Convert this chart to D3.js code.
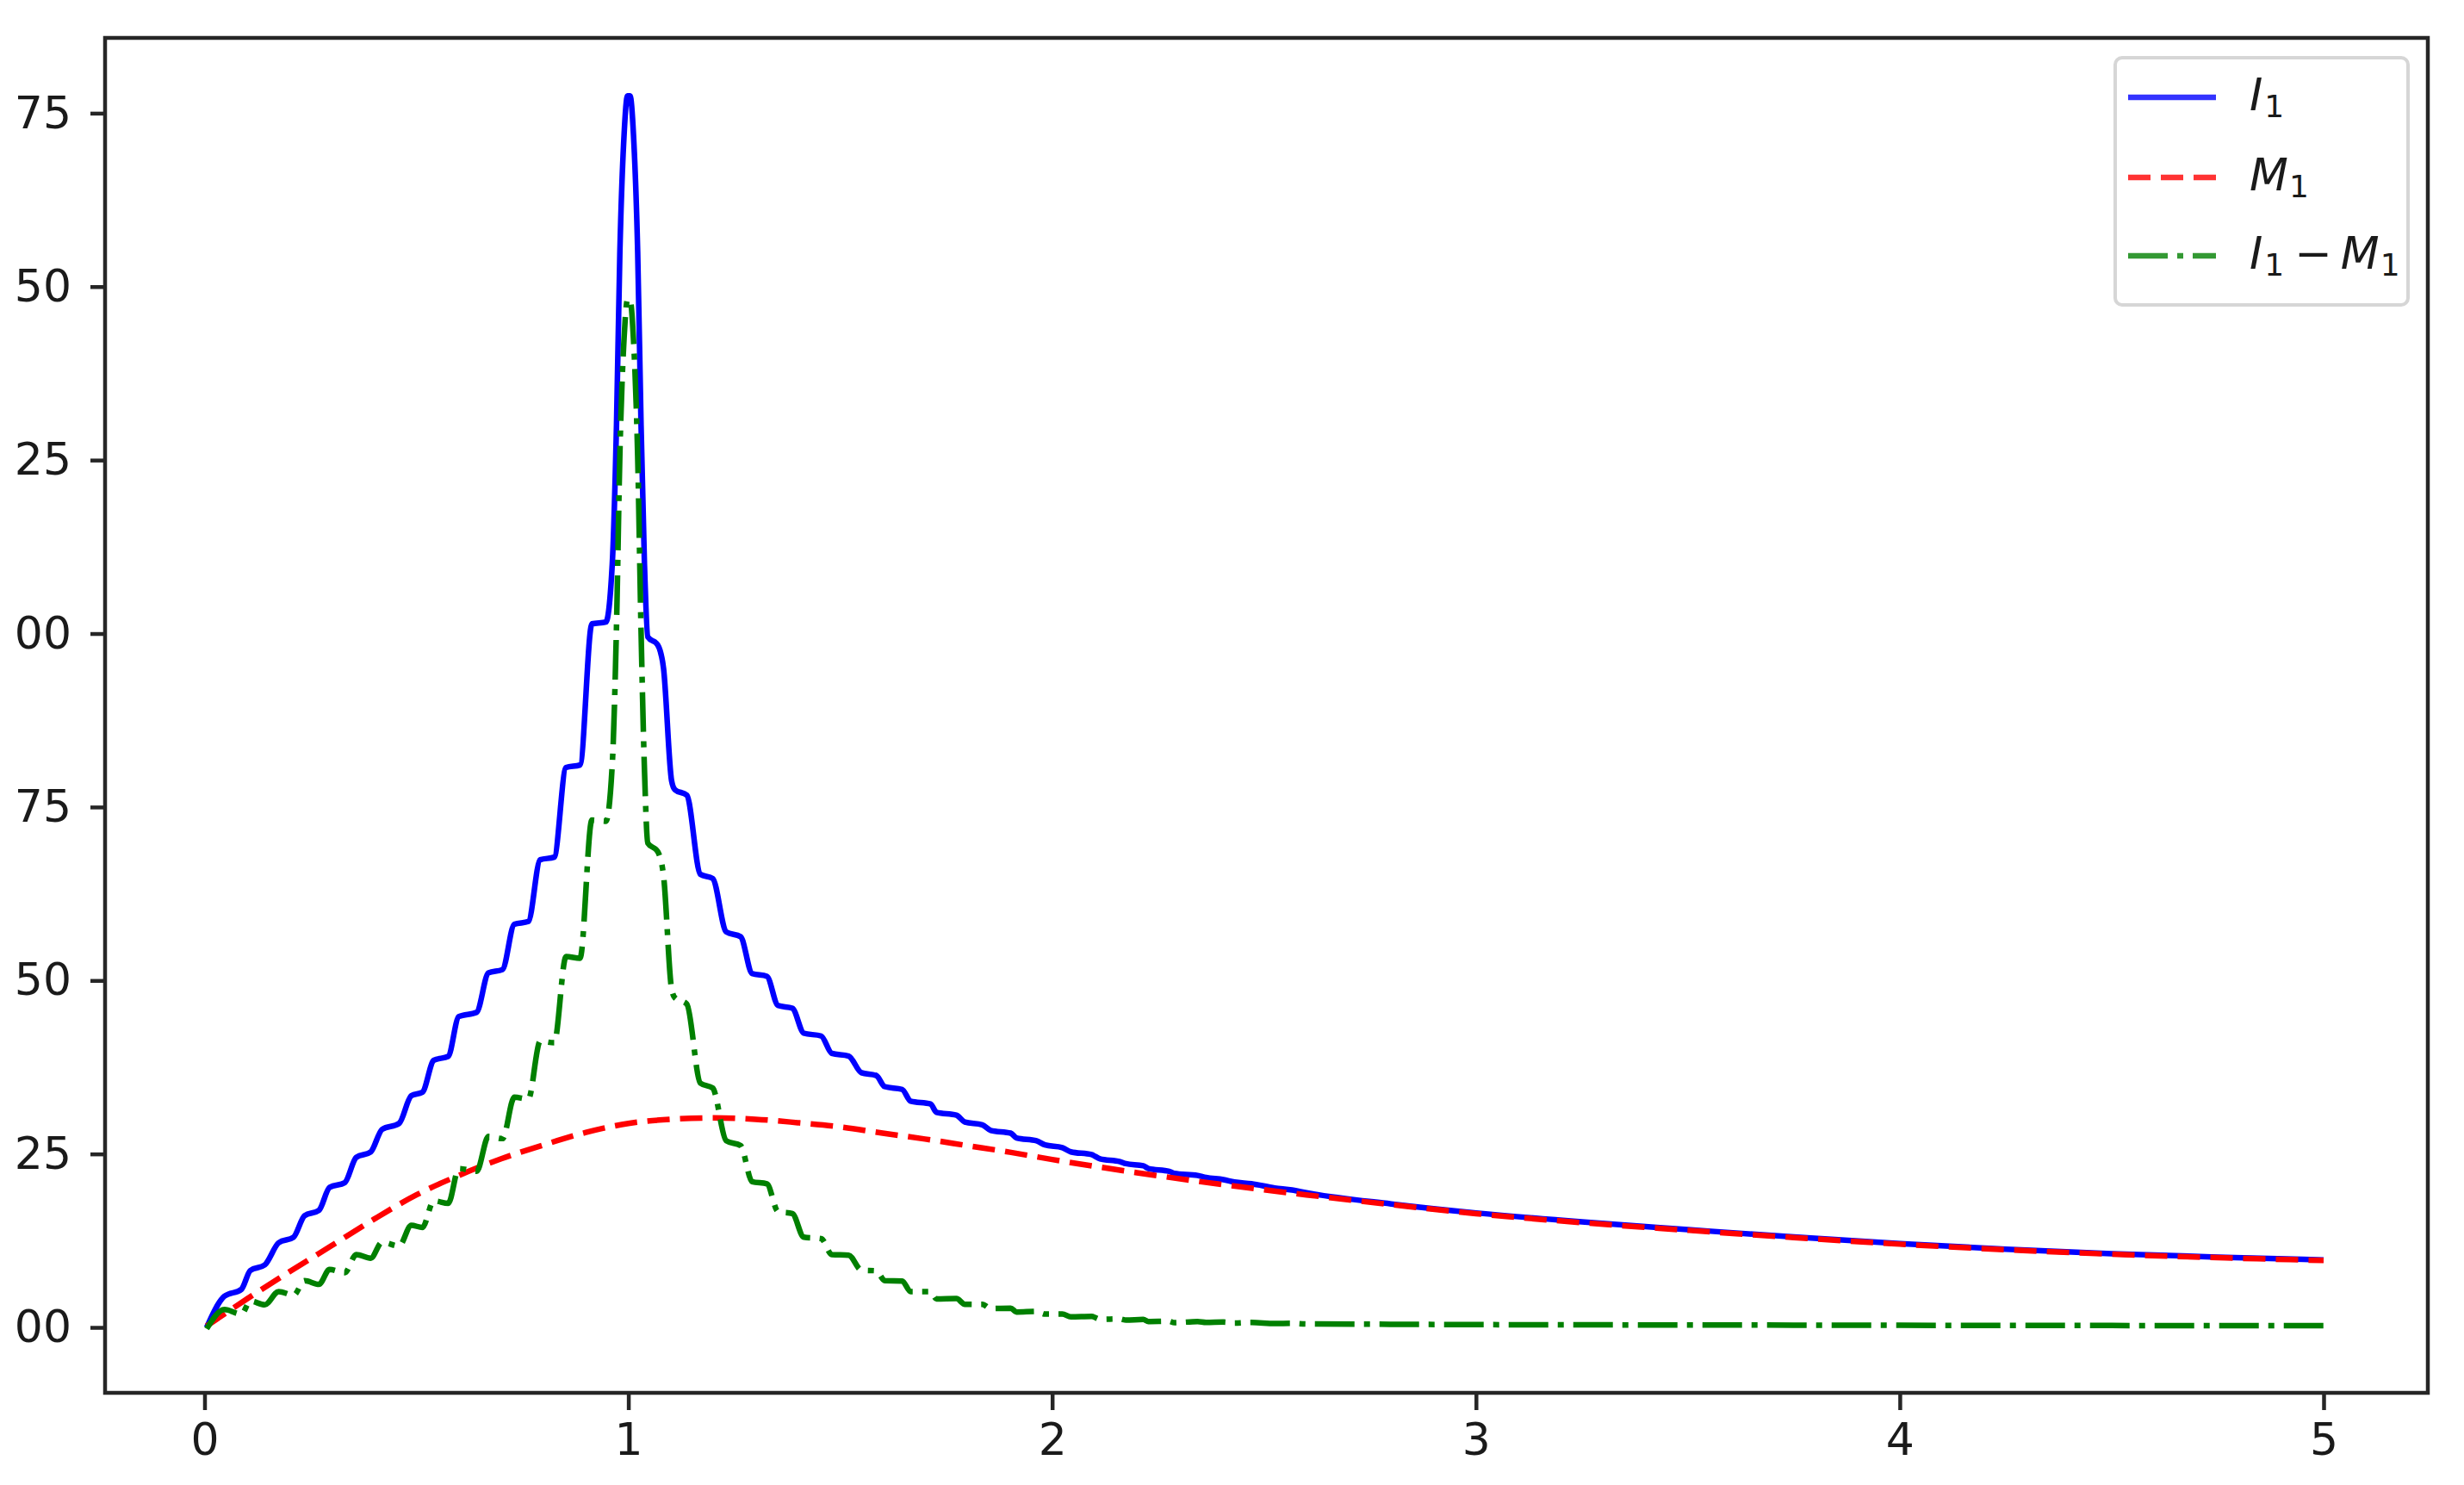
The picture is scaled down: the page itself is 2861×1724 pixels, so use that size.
<!DOCTYPE html>
<html>
<head>
<meta charset="utf-8">
<script src="https://cdn.jsdelivr.net/npm/d3@7"></script>
<style>
  html, body { margin: 0; padding: 0; background: #ffffff; }
  svg { display: block; }
  text { font-family: "DejaVu Sans", sans-serif; }
</style>
</head>
<body>
<svg id="chart" width="2861" height="1724"></svg>
<script>
// ---------------- data ----------------
const xTicks = [0, 1, 2, 3, 4, 5];
const xTickLabels = ["0", "1", "2", "3", "4", "5"];
const yTicks = [0, 0.25, 0.5, 0.75, 1.0, 1.25, 1.5, 1.75];
// labels are cut at the left edge of the picture: only the last two digits show
const yTickLabels = ["00", "25", "50", "75", "00", "25", "50", "75"];

// shared abscissae for I1 and I1 - M1
const xGrid = [0.005, 0.047, 0.087, 0.108, 0.142, 0.175, 0.21, 0.236, 0.27, 0.295,
  0.331, 0.358, 0.392, 0.419, 0.459, 0.488, 0.514, 0.541, 0.575, 0.60,
  0.642, 0.67, 0.703, 0.731, 0.764, 0.792, 0.825, 0.853, 0.886, 0.914,
  0.947, 0.962, 0.972, 0.98, 0.99, 0.998, 1.004, 1.012, 1.022, 1.03,
  1.038, 1.046, 1.069, 1.083, 1.102, 1.11, 1.138, 1.17, 1.199, 1.231,
  1.265, 1.292, 1.327, 1.353, 1.387, 1.414, 1.455, 1.48, 1.52, 1.55,
  1.585, 1.605, 1.646, 1.666, 1.713, 1.727, 1.774, 1.794, 1.835, 1.855,
  1.902, 1.916, 1.963, 1.983, 2.024, 2.044, 2.093, 2.113, 2.16, 2.174,
  2.215, 2.227, 2.276, 2.288, 2.343, 2.363, 2.404, 2.43, 2.47, 2.525,
  2.566, 2.6, 2.8, 3.0, 3.25, 3.5, 3.75, 4.0, 4.25, 4.5, 4.75, 5.0];

const I1 = [0, 0.045, 0.0548, 0.082, 0.090, 0.122, 0.130, 0.161, 0.1687, 0.2017,
  0.2087, 0.245, 0.2528, 0.2855, 0.2939, 0.334, 0.3389, 0.385, 0.3907, 0.448,
  0.4541, 0.511, 0.5157, 0.581, 0.585, 0.674, 0.6777, 0.807, 0.8106, 1.014,
  1.0166, 1.1, 1.3, 1.55, 1.72, 1.775, 1.775, 1.72, 1.55, 1.3,
  1.1, 0.995, 0.984, 0.95, 0.788, 0.775, 0.767, 0.653, 0.647, 0.570,
  0.563, 0.510, 0.506, 0.464, 0.460, 0.424, 0.420, 0.395, 0.391, 0.367,
  0.363, 0.347, 0.343, 0.326, 0.322, 0.310, 0.306, 0.296, 0.292, 0.284,
  0.280, 0.273, 0.269, 0.263, 0.259, 0.253, 0.249, 0.243, 0.239, 0.236,
  0.233, 0.229, 0.225, 0.222, 0.219, 0.216, 0.213, 0.2095, 0.207, 0.201,
  0.198, 0.194, 0.178, 0.165, 0.152, 0.141, 0.1303, 0.1208, 0.1128, 0.1063, 0.1013, 0.0973];

const I1minusM1 = [-0.002, 0.0257, 0.0191, 0.0379, 0.0326, 0.0517, 0.0463, 0.0673, 0.0621, 0.0836,
  0.0789, 0.105, 0.0998, 0.1228, 0.1172, 0.1472, 0.1440, 0.1825, 0.1787, 0.229,
  0.2250, 0.2752, 0.2721, 0.3318, 0.3292, 0.4126, 0.4102, 0.5345, 0.5321, 0.7312,
  0.7295, 0.811, 1.01, 1.259, 1.427, 1.481, 1.481, 1.425, 1.255, 1.004,
  0.804, 0.698, 0.686, 0.651, 0.488, 0.475, 0.466, 0.352, 0.345, 0.269,
  0.262, 0.210, 0.207, 0.167, 0.164, 0.130, 0.128, 0.105, 0.104, 0.0825,
  0.0816, 0.0674, 0.0669, 0.0516, 0.0517, 0.041, 0.0415, 0.0334, 0.0333, 0.0272,
  0.0277, 0.0222, 0.0231, 0.0192, 0.0193, 0.0152, 0.0158, 0.0117, 0.0122, 0.0105,
  0.0114, 0.0084, 0.0088, 0.0068, 0.0085, 0.0072, 0.0077, 0.0064, 0.0072, 0.0056,
  0.0059, 0.005, 0.0045, 0.004, 0.0037, 0.0035, 0.0033, 0.003, 0.0028, 0.0027, 0.0026, 0.0025];

const xM = [0.005, 0.1, 0.2, 0.3, 0.4, 0.5, 0.6, 0.7, 0.8, 0.9, 1.0, 1.1, 1.2, 1.3, 1.4, 1.5,
  1.6, 1.7, 1.8, 1.9, 2.0, 2.2, 2.4, 2.6, 2.8, 3.0, 3.25, 3.5, 3.75, 4.0, 4.25, 4.5, 4.75, 5.0];
const M1 = [0.002, 0.041, 0.080, 0.118, 0.156, 0.191, 0.219, 0.243, 0.263, 0.281, 0.294, 0.300, 0.302,
  0.300, 0.295, 0.289, 0.280, 0.2715, 0.262, 0.2525, 0.242, 0.223, 0.206, 0.191, 0.177, 0.164,
  0.151, 0.140, 0.1295, 0.120, 0.112, 0.1055, 0.1005, 0.0965];

const seriesNames = ["I1", "M1", "I1-M1"];
const seriesColors = ["#0000ff", "#ff0000", "#008000"];

// ---------------- layout ----------------
const W = 2861, H = 1724;
const L = 122, R = 2819, T = 44, B = 1617;
const FS = 52;
const LW = 6.5;

const svg = d3.select("#chart");
svg.append("rect").attr("width", W).attr("height", H).attr("fill", "#ffffff");

const x = d3.scaleLinear().domain([-0.2347, 5.2459]).range([L, R]);
const y = d3.scaleLinear().domain([-0.0943, 1.8585]).range([B, T]);

svg.append("defs").append("clipPath").attr("id", "plotclip")
  .append("rect").attr("x", L).attr("y", T).attr("width", R - L).attr("height", B - T);

const plot = svg.append("g").attr("clip-path", "url(#plotclip)");

const smooth = d3.line().x(d => x(d[0])).y(d => y(d[1])).curve(d3.curveMonotoneX);

const dataI1 = xGrid.map((v, i) => [v, I1[i]]);
const dataM1 = xM.map((v, i) => [v, M1[i]]);
const dataD = xGrid.map((v, i) => [v, I1minusM1[i]]);

plot.append("path").datum(dataI1).attr("d", smooth)
  .attr("fill", "none").attr("stroke", seriesColors[0]).attr("stroke-width", LW)
  .attr("stroke-linejoin", "round");
plot.append("path").datum(dataM1).attr("d", smooth)
  .attr("fill", "none").attr("stroke", seriesColors[1]).attr("stroke-width", LW)
  .attr("stroke-dasharray", "26,12");
plot.append("path").datum(dataD).attr("d", smooth)
  .attr("fill", "none").attr("stroke", seriesColors[2]).attr("stroke-width", LW)
  .attr("stroke-dasharray", "46,11,7,11");

// ---------------- axes ----------------
const axisColor = "#262626";
const xAxis = d3.axisBottom(x).tickValues(xTicks).tickFormat((d, i) => xTickLabels[i])
  .tickSize(20).tickPadding(15);
const gx = svg.append("g").attr("transform", `translate(0,${B})`).call(xAxis);
gx.select(".domain").remove();
gx.selectAll(".tick line").attr("stroke", axisColor).attr("stroke-width", 4.5);
gx.selectAll(".tick text").attr("font-size", FS).attr("fill", "#1a1a1a")
  .attr("font-family", "DejaVu Sans");

const yAxis = d3.axisLeft(y).tickValues(yTicks).tickFormat((d, i) => yTickLabels[i])
  .tickSize(17).tickPadding(22);
const gy = svg.append("g").attr("transform", `translate(${L},0)`).call(yAxis);
gy.select(".domain").remove();
gy.selectAll(".tick line").attr("stroke", axisColor).attr("stroke-width", 4.5);
gy.selectAll(".tick text").attr("font-size", FS).attr("fill", "#1a1a1a")
  .attr("font-family", "DejaVu Sans");

// frame
svg.append("rect").attr("x", L).attr("y", T).attr("width", R - L).attr("height", B - T)
  .attr("fill", "none").attr("stroke", axisColor).attr("stroke-width", 4.5);

// ---------------- legend ----------------
const lg = svg.append("g");
lg.append("rect").attr("x", 2456).attr("y", 67).attr("width", 340).attr("height", 287)
  .attr("rx", 8).attr("ry", 8)
  .attr("fill", "#ffffff").attr("fill-opacity", 0.8)
  .attr("stroke", "#d6d6d6").attr("stroke-width", 4);

const rowsY = [113, 206, 297];
const dashes = [null, "26,12", "46,11,7,11"];
rowsY.forEach((ry, i) => {
  const ln = lg.append("line").attr("x1", 2471).attr("x2", 2573).attr("y1", ry).attr("y2", ry)
    .attr("stroke", seriesColors[i]).attr("stroke-width", LW).attr("stroke-opacity", 0.8);
  if (dashes[i]) ln.attr("stroke-dasharray", dashes[i]);
});

function mathLabel(g, xPos, yBase, parts) {
  const t = g.append("text").attr("x", xPos).attr("y", yBase)
    .attr("font-size", FS).attr("fill", "#1a1a1a").attr("font-family", "DejaVu Sans");
  parts.forEach(p => {
    const ts = t.append("tspan").text(p.t);
    if (p.it) ts.attr("font-style", "italic");
    if (p.sub) ts.attr("font-size", 36).attr("dy", 8);
    if (p.up) ts.attr("dy", -8);
    if (p.dx) ts.attr("dx", p.dx);
  });
}
mathLabel(lg, 2612, 128, [{t: "I", it: true}, {t: "1", sub: true, dx: 2}]);
mathLabel(lg, 2612, 221, [{t: "M", it: true}, {t: "1", sub: true, dx: 1}]);
mathLabel(lg, 2612, 312, [{t: "I", it: true}, {t: "1", sub: true, dx: 2},
  {t: "\u2212", up: true, dx: 12}, {t: "M", it: true, dx: 10}, {t: "1", sub: true, dx: 1}]);
</script>
</body>
</html>
